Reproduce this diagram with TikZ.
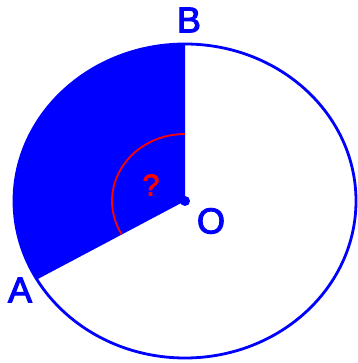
\documentclass[tikz,border=0pt]{standalone}
\usepackage{fontspec}
\setmainfont{Liberation Sans}
\newfontfamily\lblfont{Liberation Sans}[FakeBold=3]
\usetikzlibrary{calc}
\begin{document}
\begin{tikzpicture}[x=1pt,y=1pt,
  lbl/.style={text=blue,font=\fontsize{36}{36}\lblfont,inner sep=0pt},
  ring/.style={draw=blue,line width=2.8pt}]
\useasboundingbox (0,0) rectangle (357,363);
\coordinate (O) at (185,162);
\coordinate (B) at (185,319);
\coordinate (A) at ($(O)+(210:171 and 157)$);
\fill[blue] (O) -- (B) arc[start angle=90,end angle=210,x radius=171,y radius=157] -- cycle;
\draw[ring] (O) ellipse[x radius=171,y radius=157];
\draw[red,line width=1.8pt] ($(O)+(0,67)$) arc[start angle=90,end angle=210,x radius=73,y radius=67];
\fill[blue] (O) circle[radius=5];
\node[lbl] (lb) at (189,343) {B};
\node[lbl] (lo) at (211,142) {O};
\node[lbl] (la) at (20,73) {A};
\node[text=red,font=\fontsize{30}{30}\lblfont,inner sep=0pt] (q) at (151,178) {?};
\end{tikzpicture}
\end{document}
